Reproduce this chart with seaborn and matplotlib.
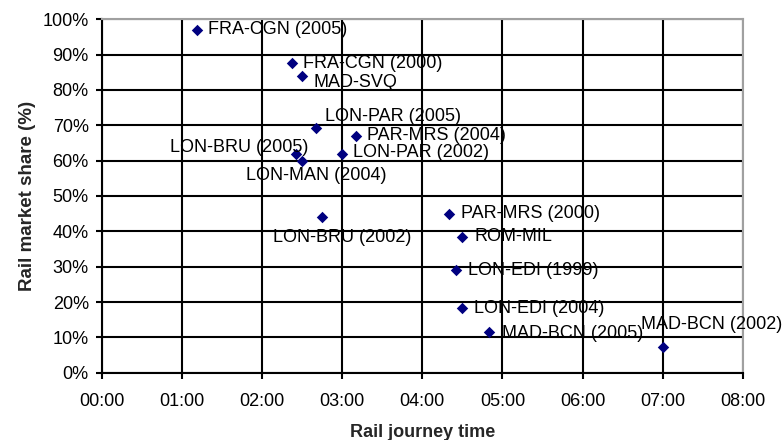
import matplotlib
matplotlib.use("Agg")
import matplotlib.pyplot as plt
import seaborn as sns
import pandas as pd
from matplotlib.ticker import FuncFormatter, MultipleLocator

# ---- data ----
routes = ["FRA-CGN (2005)", "FRA-CGN (2000)", "MAD-SVQ", "LON-PAR (2005)",
          "PAR-MRS (2004)", "LON-BRU (2005)", "LON-MAN (2004)", "LON-PAR (2002)",
          "LON-BRU (2002)", "PAR-MRS (2000)", "ROM-MIL", "LON-EDI (1999)",
          "LON-EDI (2004)", "MAD-BCN (2005)", "MAD-BCN (2002)"]
journey_time = ["1:11", "2:22", "2:30", "2:40",
                "3:10", "2:25", "2:30", "3:00",
                "2:45", "4:20", "4:30", "4:25",
                "4:30", "4:50", "7:00"]
market_share = [97, 87.5, 84, 69.3,
                67, 62, 60, 62,
                44, 45, 38.5, 29,
                18.2, 11.5, 7.4]
x_tick_labels = ["00:00", "01:00", "02:00", "03:00", "04:00",
                 "05:00", "06:00", "07:00", "08:00"]

# label placement (pixel offsets from marker, horizontal alignment)
label_pos = [(11, 0, "left"), (11, 0, "left"), (11, -7, "left"), (9, 11, "left"),
             (11, 0, "left"), (13, 6, "right"), (14, -15, "center"), (11, 1.5, "left"),
             (20, -20, "center"), (12, 0, "left"), (12, 0, "left"), (12, 0, "left"),
             (12, 0, "left"), (13, -1, "left"), (49, 22, "center")]

def to_hours(s):
    h, m = s.split(":")
    return int(h) + int(m) / 60.0

df = pd.DataFrame({
    "route": routes,
    "hours": [to_hours(t) for t in journey_time],
    "share": market_share,
})

sns.set_style("white")
plt.rcParams["font.family"] = ["Liberation Sans", "DejaVu Sans"]

fig = plt.figure(figsize=(7.84, 4.40), dpi=100)
ax = fig.add_axes([0.1301, 0.1530, 0.9473 - 0.1301, 0.9561 - 0.1530])

sns.scatterplot(data=df, x="hours", y="share", ax=ax, marker="D", s=34,
                color="#000080", edgecolor="#000080", linewidth=0, zorder=3)

for r, x, y, (dx, dy, ha) in zip(df["route"], df["hours"], df["share"], label_pos):
    ax.annotate(r, (x, y), xytext=(dx, dy), textcoords="offset pixels",
                ha=ha, va="center", fontsize=13, color="black", zorder=4)

ax.set_xlim(0, 8)
ax.set_ylim(0, 100)
ax.xaxis.set_major_locator(MultipleLocator(1))
ax.yaxis.set_major_locator(MultipleLocator(10))
ax.set_xticks(range(len(x_tick_labels)))
ax.set_xticklabels(x_tick_labels)
ax.yaxis.set_major_formatter(FuncFormatter(lambda v, p: f"{int(round(v))}%"))

ax.grid(True, color="black", linewidth=1.5)
ax.set_axisbelow(True)
for side in ["left", "bottom"]:
    ax.spines[side].set_color("black")
    ax.spines[side].set_linewidth(1.5)
for side in ["top", "right"]:
    ax.spines[side].set_color("#a0a0a0")
    ax.spines[side].set_linewidth(1.5)

ax.tick_params(axis="both", which="major", direction="out", length=4.5, width=1.5,
               color="black", labelsize=13, labelcolor="black",
               left=True, bottom=True)
ax.tick_params(axis="y", pad=5)
ax.tick_params(axis="x", pad=10)

ax.set_xlabel("Rail journey time", fontsize=13, fontweight="bold", labelpad=10)
ax.set_ylabel("Rail market share (%)", fontsize=13.5, fontweight="bold", labelpad=5)

fig.savefig("out.png", dpi=100)
